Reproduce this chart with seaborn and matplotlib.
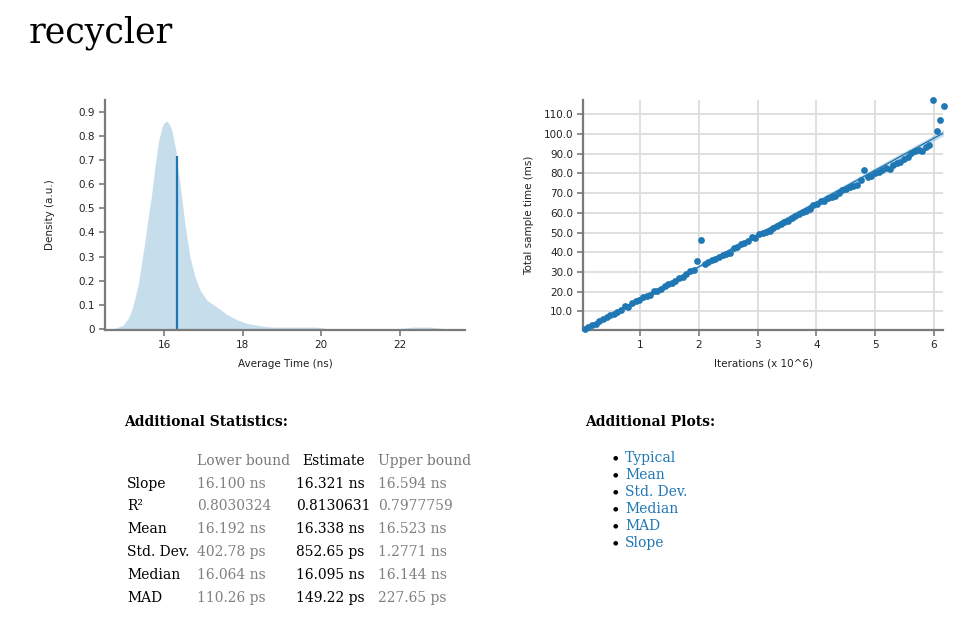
import matplotlib
matplotlib.use("Agg")
import matplotlib.pyplot as plt
from matplotlib.ticker import FuncFormatter
import seaborn as sns
import pandas as pd

# PDF of the average time per iteration (ns)
pdf_x = [14.6, 14.75, 14.96, 15.09, 15.18, 15.26, 15.35, 15.43, 15.52, 15.60,
         15.69, 15.77, 15.86, 15.94, 16.0, 16.07, 16.13, 16.20, 16.31, 16.36,
         16.45, 16.53, 16.66, 16.79, 16.92, 17.09, 17.34, 17.6, 17.85,
         18.1, 18.35, 18.6, 18.78, 19.2, 19.6, 19.88, 20.0, 20.1, 20.15, 22.0,
         22.08, 22.2, 22.3, 22.5, 22.8, 22.95, 23.06, 23.15]
pdf_y = [0.0, 0.002, 0.015, 0.043, 0.078, 0.126, 0.188, 0.272, 0.368, 0.465,
         0.562, 0.673, 0.777, 0.832, 0.855, 0.862, 0.852, 0.825, 0.735, 0.659,
         0.548, 0.438, 0.299, 0.216, 0.161, 0.119, 0.091, 0.060, 0.038,
         0.023, 0.015, 0.009, 0.007, 0.007, 0.007, 0.007, 0.004, 0.003, 0.0, 0.0,
         0.003, 0.004, 0.007, 0.007, 0.007, 0.004, 0.002, 0.0]
slope_estimate = 16.321
slope_pdf_height = 0.717

# samples: iterations (x 10^6) vs total time (ms)
iterations = [0.062, 0.123, 0.185, 0.247, 0.309, 0.370, 0.432, 0.494, 0.555, 0.617,
              0.679, 0.740, 0.802, 0.864, 0.926, 0.987, 1.049, 1.111, 1.172, 1.234,
              1.296, 1.357, 1.419, 1.481, 1.543, 1.604, 1.666, 1.728, 1.789, 1.851,
              1.913, 1.974, 2.036, 2.098, 2.160, 2.221, 2.283, 2.345, 2.406, 2.468,
              2.530, 2.591, 2.653, 2.715, 2.777, 2.838, 2.900, 2.962, 3.023, 3.085,
              3.147, 3.208, 3.270, 3.332, 3.394, 3.455, 3.517, 3.579, 3.640, 3.702,
              3.764, 3.825, 3.887, 3.949, 4.011, 4.072, 4.134, 4.196, 4.257, 4.319,
              4.381, 4.442, 4.504, 4.566, 4.628, 4.689, 4.751, 4.813, 4.874, 4.936,
              4.998, 5.059, 5.121, 5.183, 5.245, 5.306, 5.368, 5.430, 5.491, 5.553,
              5.615, 5.676, 5.738, 5.800, 5.862, 5.923, 5.985, 6.047, 6.108, 6.170]
sample_time = [1.2, 2.0, 2.8, 3.8, 5.0, 6.0, 6.9, 7.9, 8.7, 9.7,
               10.6, 12.8, 12.2, 14.0, 15.2, 15.5, 17.2, 17.8, 18.3, 20.3,
               20.2, 21.5, 22.8, 23.8, 24.2, 25.5, 26.8, 27.5, 28.8, 30.5,
               30.8, 35.3, 46.0, 34.2, 34.8, 36.2, 36.8, 37.8, 38.8, 39.3,
               39.8, 42.2, 42.8, 44.0, 44.8, 45.8, 47.8, 47.3, 49.0, 50.0,
               50.5, 51.0, 52.5, 53.5, 54.5, 55.2, 56.0, 57.5, 58.5, 59.2,
               60.5, 61.0, 62.2, 64.0, 64.3, 66.0, 66.2, 67.5, 68.2, 68.8,
               70.0, 71.8, 72.0, 73.2, 73.8, 74.2, 76.5, 82.0, 78.3, 78.5,
               80.3, 80.5, 81.8, 83.0, 82.3, 84.5, 85.3, 86.0, 87.2, 88.5,
               90.5, 91.5, 91.8, 91.3, 93.5, 94.5, 117.5, 101.5, 107.0, 114.5]

# linear fit and its confidence band
fit_x = [0.0, 6.17]
fit_y = [0.0, 100.7]
fit_low = [0.0, 99.3]
fit_high = [0.0, 102.4]

# statistics table
stat_names = ["Slope", "R²", "Mean", "Std. Dev.", "Median", "MAD"]
lower_bound = ["16.100 ns", "0.8030324", "16.192 ns", "402.78 ps", "16.064 ns", "110.26 ps"]
estimate = ["16.321 ns", "0.8130631", "16.338 ns", "852.65 ps", "16.095 ns", "149.22 ps"]
upper_bound = ["16.594 ns", "0.7977759", "16.523 ns", "1.2771 ns", "16.144 ns", "227.65 ps"]
plot_links = ["Typical", "Mean", "Std. Dev.", "Median", "MAD", "Slope"]

W, H = 966, 627
BLUE = "#1f78b4"
SPINE = "#7a7a7a"
SERIF = "DejaVu Serif"

sns.set_style("ticks")
fig = plt.figure(figsize=(W / 100, H / 100), dpi=100)


def px_text(x, y, s, **kw):
    fig.text(x / W, 1 - y / H, s, **kw)


def style_axes(ax):
    sns.despine(ax=ax)
    for side in ["left", "bottom"]:
        ax.spines[side].set_color(SPINE)
        ax.spines[side].set_linewidth(1.6)
    ax.tick_params(direction="out", length=4, width=1.2, color=SPINE,
                   labelsize=7.5, labelcolor="#222222", pad=3)


# --- PDF plot ---
ax1 = fig.add_axes([105 / W, 1 - 330 / H, 360 / W, 230 / H])
pdf = pd.DataFrame({"time": pdf_x, "density": pdf_y})
ax1.fill_between(pdf["time"], pdf["density"], color=BLUE, alpha=0.25, lw=0)
ax1.vlines(slope_estimate, 0, slope_pdf_height, color=BLUE, lw=1.6)
ax1.set_xlim(14.5, 23.66)
ax1.set_ylim(-0.005, 0.95)
ax1.set_xticks([16, 18, 20, 22])
ax1.set_yticks([0, 0.1, 0.2, 0.3, 0.4, 0.5, 0.6, 0.7, 0.8, 0.9])
ax1.yaxis.set_major_formatter(FuncFormatter(lambda v, p: f"{v:g}"))
style_axes(ax1)
ax1.set_xlabel("Average Time (ns)", fontsize=7.5, color="#222222")
ax1.set_ylabel("Density (a.u.)", fontsize=7.5, color="#222222")
ax1.xaxis.set_label_coords(0.5, -0.125)
ax1.yaxis.set_label_coords(-0.14, 0.5)

# --- regression plot ---
ax2 = fig.add_axes([583 / W, 1 - 330 / H, 360 / W, 230 / H])
ax2.grid(True, color="#dddddd", lw=1.3)
ax2.set_axisbelow(True)
ax2.fill_between(fit_x, fit_low, fit_high, color=BLUE, alpha=0.25, lw=0)
sns.lineplot(x=fit_x, y=fit_y, ax=ax2, color=BLUE, lw=1.0)
samples = pd.DataFrame({"iters": iterations, "time": sample_time})
sns.scatterplot(data=samples, x="iters", y="time", ax=ax2, color=BLUE,
                s=24, linewidth=0, clip_on=False, zorder=3)
ax2.set_xlim(0.031, 6.153)
ax2.set_ylim(0.5, 117.3)
ax2.set_xticks([1, 2, 3, 4, 5, 6])
ax2.set_yticks([10, 20, 30, 40, 50, 60, 70, 80, 90, 100, 110])
ax2.yaxis.set_major_formatter(FuncFormatter(lambda v, p: f"{v:.1f}"))
style_axes(ax2)
ax2.set_xlabel("Iterations (x 10^6)", fontsize=7.5, color="#222222")
ax2.set_ylabel("Total sample time (ms)", fontsize=7.5, color="#222222")
ax2.xaxis.set_label_coords(0.5, -0.125)
ax2.yaxis.set_label_coords(-0.135, 0.5)

# --- page text ---
px_text(28.5, 43, "recycler", family=SERIF, fontsize=25, color="black")

px_text(124, 426, "Additional Statistics:", family=SERIF, fontsize=10,
        weight="bold", color="black")
px_text(196.7, 465, "Lower bound", family=SERIF, fontsize=10, color="#777777")
px_text(334, 465, "Estimate", family=SERIF, fontsize=10, color="black", ha="center")
px_text(378, 465, "Upper bound", family=SERIF, fontsize=10, color="#777777")
for i, name in enumerate(stat_names):
    y = 487.7 + i * 22.8
    px_text(127, y, name, family=SERIF, fontsize=10, color="black")
    px_text(196.7, y, lower_bound[i], family=SERIF, fontsize=10, color="#808080")
    px_text(295.7, y, estimate[i], family=SERIF, fontsize=10, color="black")
    px_text(378, y, upper_bound[i], family=SERIF, fontsize=10, color="#808080")

px_text(585, 426, "Additional Plots:", family=SERIF, fontsize=10,
        weight="bold", color="black")
for i, name in enumerate(plot_links):
    y = 462.3 + i * 16.9
    px_text(615, y - 4, "●", family="DejaVu Sans", fontsize=4.5,
            color="black", ha="center", va="center")
    px_text(625, y, name, family=SERIF, fontsize=10, color=BLUE)

fig.savefig("out.png", dpi=100)
